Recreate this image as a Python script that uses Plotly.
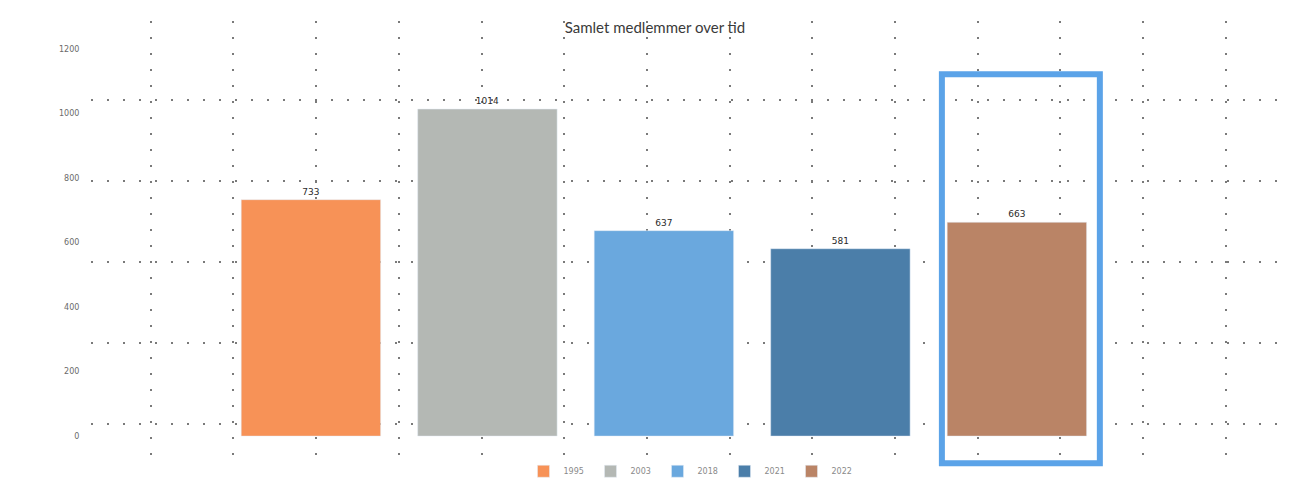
import plotly.graph_objects as go

years = ["1995", "2003", "2018", "2021", "2022"]
members = [733, 1014, 637, 581, 663]
colors = ["#F79257", "#B4B8B4", "#6AA8DE", "#4B7EA9", "#BA8466"]
title_text = "Samlet medlemmer over tid"
y_ticks = [0, 200, 400, 600, 800, 1000, 1200]

fig = go.Figure()
for yr, v, c in zip(years, members, colors):
    fig.add_trace(go.Bar(
        x=[yr], y=[v], name=yr, marker_color=c, width=0.79,
        text=[str(v)], textposition="outside", cliponaxis=False,
        textfont=dict(size=9, color="#2a2a2a", family="DejaVu Sans"),
    ))

# invisible trace to activate the overlay axes used for the dotted paper grid
fig.add_trace(go.Scatter(x=[None], y=[None], xaxis="x2", yaxis="y2",
                         showlegend=False, hoverinfo="skip"))

fig.update_layout(
    width=1294, height=481,
    margin=dict(l=83, r=11, t=13, b=20, autoexpand=False),
    paper_bgcolor="white", plot_bgcolor="rgba(0,0,0,0)",
    barmode="overlay",
    title=dict(text=title_text, x=0.5, xanchor="center", y=1 - 20 / 481,
               yanchor="middle", yref="container", automargin=False,
               font=dict(family="Lato", size=15, color="#3a3a3a")),
    xaxis=dict(type="category", categoryorder="array", categoryarray=years,
               range=[-1.246, 5.553], showticklabels=False, showgrid=False,
               zeroline=False, showline=False, ticks="", automargin=False),
    yaxis=dict(range=[-102, 1287], tickvals=y_ticks, showgrid=False,
               zeroline=False, showline=False, ticks="outside", ticklen=9,
               tickcolor="rgba(0,0,0,0)", automargin=False,
               tickfont=dict(family="DejaVu Sans", size=8, color="#6a6a6a")),
    xaxis2=dict(overlaying="x", range=[90, 1290], showgrid=True, tick0=67,
                dtick=82.7, gridcolor="#7a7a7a", gridwidth=1.5,
                griddash="1.5px,14.5px", showticklabels=False, zeroline=False,
                ticks="", automargin=False),
    yaxis2=dict(overlaying="y", range=[468, 20], showgrid=True, tick0=18,
                dtick=81, gridcolor="#7a7a7a", gridwidth=1.5,
                griddash="1.5px,14.5px", showticklabels=False, zeroline=False,
                ticks="", automargin=False),
    legend=dict(orientation="h", x=0.5, xanchor="center", y=-0.005,
                yanchor="middle", itemwidth=30, entrywidth=22,
                entrywidthmode="pixels",
                font=dict(family="DejaVu Sans", size=8, color="#8a8a8a"),
                bgcolor="rgba(0,0,0,0)"),
    shapes=[dict(type="rect", xref="x", yref="y", x0=3.575, x1=4.47,
                 y0=-84, y1=1122, line=dict(color="#5BA3E8", width=6),
                 fillcolor="rgba(0,0,0,0)")],
    showlegend=True,
)

fig.write_html("out.html")
